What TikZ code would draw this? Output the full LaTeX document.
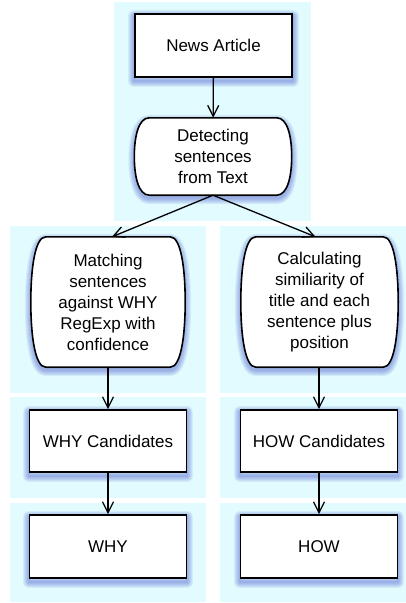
\documentclass[tikz,border=0pt]{standalone}
\usepackage{fontspec}
\setmainfont{Liberation Sans}
\usetikzlibrary{arrows.meta,positioning,calc,backgrounds}
\definecolor{cPanel}{RGB}{226,251,255}
\definecolor{cHaze}{RGB}{60,80,200}

% outline with bulging sides round a named node
\newcommand{\barrelpath}[1]{%
  ([xshift=15pt]#1.north west) -- ([xshift=-15pt]#1.north east)
  .. controls ([xshift=-4pt]#1.north east) and ($(#1.north east)!0.5!(#1.east)$) .. (#1.east)
  .. controls ($(#1.south east)!0.5!(#1.east)$) and ([xshift=-4pt]#1.south east) .. ([xshift=-15pt]#1.south east)
  -- ([xshift=15pt]#1.south west)
  .. controls ([xshift=4pt]#1.south west) and ($(#1.south west)!0.5!(#1.west)$) .. (#1.west)
  .. controls ($(#1.north west)!0.5!(#1.west)$) and ([xshift=4pt]#1.north west) .. cycle}

\begin{document}
\begin{tikzpicture}[
  x=1pt, y=-1pt,
  font=\fontsize{17}{21}\selectfont,
  >={Straight Barb[length=11pt,width=11pt]},
  panel/.style={fill=cPanel, draw=none},
  haze/.style={draw=cHaze, opacity=0.085, line join=round,
    transform canvas={yshift=-3pt}},
  box/.style={
    draw=black, fill=white, line width=1.6pt,
    minimum width=157pt, minimum height=63pt,
    inner sep=0pt, align=center
  },
  barrel/.style={
    minimum width=157pt, inner sep=0pt, align=center
  },
  barrelline/.style={draw=black, fill=white, line width=1.6pt},
  flow/.style={->, line width=1.3pt}
]

\useasboundingbox (0,0) rectangle (406,603);

% Nodes
\node[box] (news) at (213.5,45.5) {News Article};
\node[barrel, minimum height=77pt] (detect) at (213,156.5)
  {Detecting\\sentences\\from Text};
\node[barrel, minimum height=130pt, minimum width=154pt] (match) at (108,302)
  {Matching\\sentences\\against WHY\\RegExp with\\confidence};
\node[barrel, minimum height=130pt] (calc) at (319.5,302)
  {Calculating\\similiarity of\\title and each\\sentence plus\\position};
\node[box, minimum height=62pt] (whycand) at (108,441) {WHY Candidates};
\node[box] (why) at (108,546.5) {WHY};
\node[box, minimum height=62pt] (howcand) at (319,441) {HOW Candidates};
\node[box] (how) at (319,546.5) {HOW};

\begin{scope}[on background layer]
  % Panels
  \fill[panel] (114,2) rectangle (311,221);
  \fill[panel] (10,226) rectangle (206,393);
  \fill[panel] (10,397) rectangle (206,498);
  \fill[panel] (10,503) rectangle (206,602);
  \fill[panel] (220,226) rectangle (406,393);
  \fill[panel] (220,397) rectangle (406,498);
  \fill[panel] (220,503) rectangle (406,602);
  % Shadows
  \foreach \n in {news,whycand,why,howcand,how}
    \foreach \w in {2,4,...,12}
      \draw[haze, line width=\w pt] (\n.north west) rectangle (\n.south east);
  \foreach \n in {detect,match,calc}
    \foreach \w in {2,4,...,12}
      \draw[haze, line width=\w pt] \barrelpath{\n};
  % Barrel outlines
  \foreach \n in {detect,match,calc}
    \draw[barrelline] \barrelpath{\n};
\end{scope}

% Connectors
\draw[flow] (news) -- (detect);
\draw[flow] (detect.south) -- ([xshift=4pt]match.north);
\draw[flow] (detect.south) -- ([xshift=-4pt]calc.north);
\draw[flow] (match) -- (whycand);
\draw[flow] (whycand) -- (why);
\draw[flow] (calc.south -| howcand) -- (howcand);
\draw[flow] (howcand) -- (how);

\end{tikzpicture}
\end{document}
